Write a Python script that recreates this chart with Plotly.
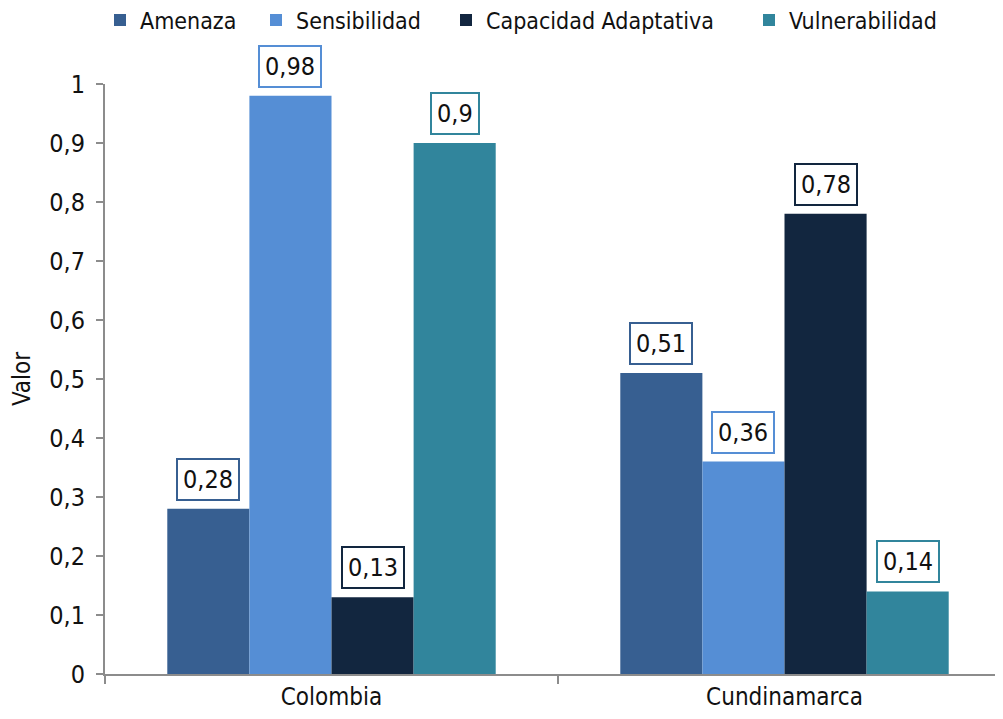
import plotly.graph_objects as go

categories = ["Colombia", "Cundinamarca"]
series_names = ["Amenaza", "Sensibilidad", "Capacidad Adaptativa", "Vulnerabilidad"]
amenaza = [0.28, 0.51]
sensibilidad = [0.98, 0.36]
capacidad = [0.13, 0.78]
vulnerabilidad = [0.90, 0.14]
colors = ["#375F91", "#558ED5", "#12263F", "#31859C"]

FONT = "DejaVu Sans Condensed, DejaVu Sans, sans-serif"
series = [amenaza, sensibilidad, capacidad, vulnerabilidad]
bargap = 0.275
legend_x = [92, 248, 438, 741]

fig = go.Figure()
legend_ids = ["legend", "legend2", "legend3", "legend4"]
for name, vals, col, lid in zip(series_names, series, colors, legend_ids):
    fig.add_trace(go.Bar(x=categories, y=vals, name=name, legend=lid, showlegend=True,
                         marker=dict(color=col, line=dict(width=0))))

w = (1 - bargap) / len(series)
annotations = []
for si, (vals, col) in enumerate(zip(series, colors)):
    off = (si - (len(series) - 1) / 2) * w
    for ci, v in enumerate(vals):
        annotations.append(dict(
            x=ci + off, y=v, xref="x", yref="y",
            text=str(v).replace(".", ","), showarrow=False,
            yanchor="bottom", yshift=8,
            font=dict(family=FONT, size=25, color="#111111"),
            bgcolor="white", bordercolor=col, borderwidth=2, borderpad=5,
        ))

legend_common = dict(orientation="h", xref="container", xanchor="left",
                     yref="container", y=1 - 12 / 719, yanchor="middle",
                     font=dict(family=FONT, size=23, color="#111111"),
                     itemwidth=30, bgcolor="rgba(0,0,0,0)")
legends = {}
for lid, lx in zip(legend_ids, legend_x):
    legends[lid] = dict(legend_common, x=lx / 1003)

fig.update_layout(
    width=1003, height=719,
    showlegend=True,
    barmode="group", bargap=bargap, bargroupgap=0,
    plot_bgcolor="white", paper_bgcolor="white",
    margin=dict(l=97, r=0, t=76, b=53),
    separators=",.",
    font=dict(family=FONT, size=22, color="#222222"),
    annotations=annotations,
    xaxis=dict(type="category", showline=True, linecolor="#8c8c8c", linewidth=2,
               ticks="outside", tickson="boundaries", ticklen=8, tickcolor="#8c8c8c", tickwidth=2,
               tickfont=dict(family=FONT, size=24, color="#111111"), showgrid=False,
               automargin=False),
    yaxis=dict(range=[0, 1], dtick=0.1, showline=True, linecolor="#8c8c8c", linewidth=2,
               ticks="outside", ticklen=7, tickcolor="#8c8c8c", tickwidth=2,
               tickfont=dict(family=FONT, size=25, color="#111111"), showgrid=False,
               zeroline=False, ticklabelstandoff=6, automargin=False,
               title=dict(text="Valor", font=dict(family=FONT, size=24, color="#111111"), standoff=58)),
    **legends,
)

fig.write_html("out.html")
